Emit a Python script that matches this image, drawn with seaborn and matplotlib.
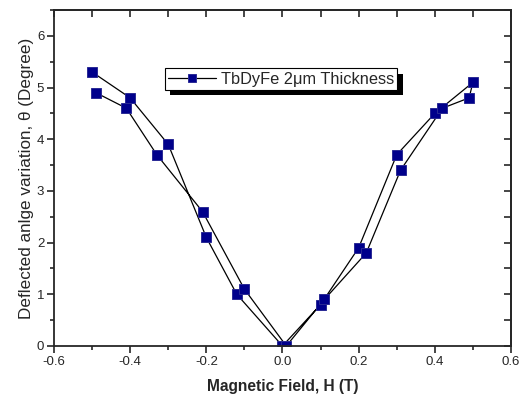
import numpy as np
import pandas as pd
import matplotlib
matplotlib.use('Agg')
import matplotlib.pyplot as plt
import matplotlib.patheffects as pe
from matplotlib.ticker import MultipleLocator
import seaborn as sns

# field sweep (one continuous loop)
field = [-0.50, -0.40, -0.30, -0.20, -0.12, 0.00, 0.10, 0.20, 0.30, 0.40, 0.50,
         0.49, 0.42, 0.31, 0.22, 0.11, 0.01, -0.10, -0.21, -0.33, -0.41, -0.49]
angle = [5.3, 4.8, 3.9, 2.1, 1.0, 0.0, 0.8, 1.9, 3.7, 4.5, 5.1,
         4.8, 4.6, 3.4, 1.8, 0.9, 0.0, 1.1, 2.6, 3.7, 4.6, 4.9]
series_label = 'TbDyFe 2\u03bcm Thickness'

df = pd.DataFrame({'H': field, 'theta': angle, 'order': range(len(field))})

sns.set_style('ticks')
plt.rcParams['font.family'] = ['Liberation Sans', 'DejaVu Sans']

fig = plt.figure(figsize=(5.2, 3.98), dpi=100)
ax = fig.add_axes([0.1038, 0.1307, 0.8789, 0.8442])

sns.lineplot(data=df, x='H', y='theta', sort=False, estimator=None, ax=ax,
             color='black', linewidth=0.9, marker='s', markersize=6.5,
             markerfacecolor='#00008B', markeredgecolor='#2a2a95',
             markeredgewidth=0.7, label=series_label)

ax.set_xlim(-0.6, 0.6)
ax.set_ylim(0, 6.5)
ax.xaxis.set_major_locator(MultipleLocator(0.2))
ax.xaxis.set_minor_locator(MultipleLocator(0.1))
ax.yaxis.set_major_locator(MultipleLocator(1))
ax.yaxis.set_minor_locator(MultipleLocator(0.5))
ax.set_xticklabels([f'{v:.1f}' for v in ax.get_xticks()])
ax.tick_params(which='major', direction='out', length=5, width=1.2, labelsize=9.5, pad=2)
ax.tick_params(which='minor', direction='out', length=3, width=1.2)
for s in ax.spines.values():
    s.set_linewidth(1.3)
    s.set_visible(True)

# inward ticks on top and right
top = ax.secondary_xaxis('top')
top.xaxis.set_major_locator(MultipleLocator(0.1))
top.tick_params(direction='in', length=5, width=1.2, labeltop=False)
right = ax.secondary_yaxis('right')
right.yaxis.set_major_locator(MultipleLocator(0.5))
right.tick_params(direction='in', length=5, width=1.2, labelright=False)
top.spines['top'].set_linewidth(1.3)
right.spines['right'].set_linewidth(1.3)

ax.set_xlabel('Magnetic Field, H (T)', fontsize=11.2, fontweight='bold', labelpad=8)
ax.set_ylabel('Deflected anlge variation, \u03b8 (Degree)', fontsize=12.3, labelpad=2)

leg = ax.legend(loc='upper left', bbox_to_anchor=(0.243, 0.826), fontsize=11.8,
                frameon=True, fancybox=False, edgecolor='black', framealpha=1,
                handlelength=2.9, handletextpad=0.3, borderpad=0.2,
                borderaxespad=0, markerscale=0.9)
leg.get_frame().set_linewidth(0.8)
leg.legendPatch.set_path_effects([
    pe.SimplePatchShadow(offset=(3.8, -3.8), shadow_rgbFace='black', alpha=1),
    pe.Normal()])

fig.savefig('out.png', dpi=100)
